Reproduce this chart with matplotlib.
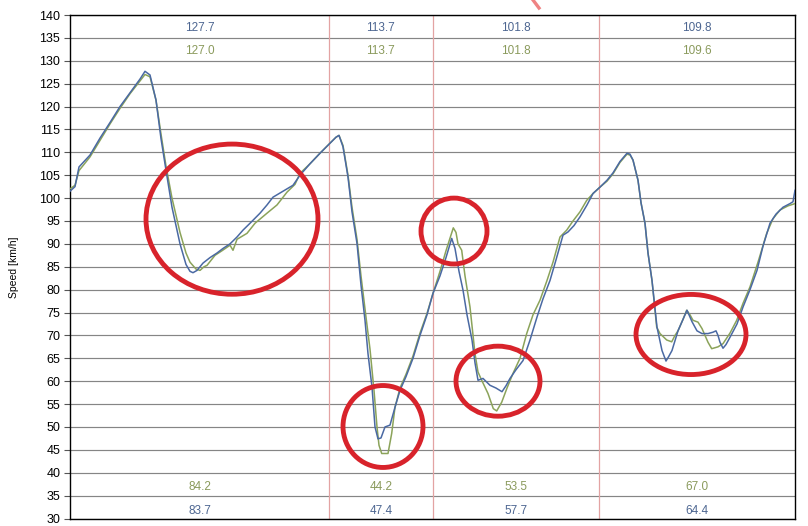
import matplotlib
matplotlib.use("Agg")
import matplotlib.pyplot as plt
from matplotlib.patches import Ellipse
from matplotlib.lines import Line2D

plt.rcParams['font.family'] = ['Liberation Sans', 'DejaVu Sans']

# distance along the lap (arbitrary units)
blue_x = [0, 5, 9, 20, 30, 40, 50, 60, 70, 75, 80, 86, 91, 96, 102, 110, 116, 120, 123, 127,
          133, 140, 147, 153, 160, 167, 173, 180, 190, 197, 203, 213, 223, 230, 240, 250, 260,
          266, 269, 273, 278, 282, 287, 291, 295, 298, 302, 305, 308, 311, 315, 320, 325, 330,
          336, 343, 350, 357, 363, 370, 376, 381.7, 385, 389, 393, 397, 402, 405, 408, 413, 420,
          426, 432, 436, 440, 446, 453, 460, 467, 473, 480, 486, 493, 498, 504, 510, 517, 523,
          530, 537, 543, 550, 557, 560, 563, 568, 571, 575, 578, 582, 587, 592, 596, 599, 602,
          608, 613, 617, 622, 627, 632, 638, 643, 646, 648, 650, 653, 656, 660, 667, 673, 680,
          687, 693, 700, 706, 713, 720, 723, 725]
blue_speed = [101.5, 102.5, 106.8, 109.4, 113.1, 116.5, 120, 123, 126, 127.7, 126.9, 121.4, 113,
              106.1, 98, 90, 85.5, 84, 83.7, 84.2, 85.8, 87, 88, 89, 90, 91.5, 93, 94.5, 96.7,
              98.5, 100.2, 101.5, 102.8, 105, 107.5, 109.8, 112, 113.3, 113.7, 111.2, 104.6, 97,
              90.1, 81, 73.3, 66, 58.7, 50, 47.4, 47.6, 50, 50.4, 54.3, 58, 61, 65, 70, 74.5,
              79.2, 83, 87, 91.2, 89, 84, 79.9, 74.5, 69, 64, 60.2, 60.6, 59.1, 58.5, 57.7, 59,
              60.6, 62.5, 64.5, 69, 74, 78, 82, 86.5, 91.9, 92.6, 94, 95.9, 98.5, 101, 102.4,
              103.9, 105.5, 108, 109.8, 109.6, 108.3, 103.9, 99, 94.5, 88, 82, 71.8, 66.7, 64.4,
              65.5, 66.7, 71, 73.5, 75.5, 73, 71, 70.4, 70.4, 70.7, 71, 70, 68.5, 67.2, 68,
              69.6, 72.5, 76.2, 80, 84.2, 89.5, 94.5, 96.5, 98, 98.8, 99.2, 101.7]

green_x = [0, 5, 9, 20, 30, 40, 50, 60, 70, 75, 80, 86, 91, 96, 102, 110, 116, 120, 126, 130,
           134, 137, 145, 152, 160, 163, 167, 177, 185, 197, 207, 217, 225, 230, 240, 250, 260,
           266, 269, 273, 278, 282, 287, 291, 296, 300, 304, 307, 309, 311.7, 318, 321.7, 325,
           330, 336, 343, 350, 357, 363, 370, 376, 383.3, 386, 388, 391.7, 395, 400, 405, 408,
           411.7, 418, 423.3, 426.7, 431.7, 437, 443, 450, 456.7, 463, 470, 477, 483, 490, 496.7,
           503, 510, 516.7, 523, 530, 537, 543, 550, 557, 560, 563, 568, 571, 575, 578, 582,
           586.7, 590, 596.7, 601.7, 605, 608, 613, 616.7, 620, 623, 628, 632, 635, 638, 641.7,
           648, 653, 660, 666.7, 673, 680, 688, 696.7, 703, 710, 718, 725]
green_speed = [102, 102.8, 106, 109, 112.6, 116.2, 119.6, 122.8, 125.6, 127.0, 126.5, 121.4, 114,
               107, 100, 92.5, 88, 86, 84.5, 84.2, 85, 85.3, 87.5, 88.5, 89.7, 88.6, 91, 92.3,
               94.5, 96.7, 98.5, 101.3, 103, 105.4, 107.5, 109.8, 112, 113.3, 113.7, 111.5, 105,
               98, 91, 83, 74, 67, 58, 50, 46, 44.2, 44.2, 48.6, 54.3, 58.5, 61.5, 65.5, 70.5,
               74.8, 79.2, 84, 88.5, 93.5, 92.5, 90, 88.6, 83, 76.2, 66, 62, 60.2, 57.3, 54.0,
               53.5, 55.4, 58.5, 61.7, 65, 70.4, 74.5, 77.7, 82, 86, 91.5, 93, 95, 97, 99.5, 101,
               102.4, 103.7, 105.3, 107.8, 109.6, 109.4, 108.3, 103.9, 99, 94.5, 88, 82, 71.8,
               70.4, 69, 68.6, 70, 71, 73.5, 75.5, 74.5, 73.3, 72.9, 71.5, 70, 68.5, 67.1, 67.5,
               68.2, 70.5, 73.3, 77, 80.6, 86, 92.3, 95.5, 97.4, 98.3, 98.8]

# sector boundaries and sector stats
sector_bounds = [0, 259, 362.7, 529.3, 725]
blue_max = ["127.7", "113.7", "101.8", "109.8"]
green_max = ["127.0", "113.7", "101.8", "109.6"]
green_min = ["84.2", "44.2", "53.5", "67.0"]
blue_min = ["83.7", "47.4", "57.7", "64.4"]

BLUE = "#4a69a3"
GREEN = "#8ba35a"
BLUE_T = "#4d6691"
GREEN_T = "#8a9a5c"

fig = plt.figure(figsize=(8.08, 5.26), dpi=100)
ax = fig.add_axes([70 / 808, 1 - 518.5 / 526, 725 / 808, 503.5 / 526])

ax.set_xlim(sector_bounds[0], sector_bounds[-1])
ax.set_ylim(30, 140)
ax.set_yticks(range(30, 141, 5))
ax.set_xticks([])
ax.grid(axis='y', color='#858585', linewidth=0.85)
ax.set_axisbelow(True)
for s in ax.spines.values():
    s.set_color('black')
    s.set_linewidth(1.0)
ax.tick_params(axis='y', length=4, width=0.8, color='#555555', pad=3, labelsize=9)

for b in sector_bounds[1:-1]:
    ax.axvline(b, color='#e3a3a3', linewidth=0.9, zorder=1)

ax.plot(green_x, green_speed, color=GREEN, linewidth=1.1, zorder=3)
ax.plot(blue_x, blue_speed, color=BLUE, linewidth=1.1, zorder=4)

for i in range(4):
    cx = (sector_bounds[i] + sector_bounds[i + 1]) / 2
    ax.text(cx, 137.1, blue_max[i], color=BLUE_T, fontsize=8.5, ha='center', va='center')
    ax.text(cx, 132.1, green_max[i], color=GREEN_T, fontsize=8.5, ha='center', va='center')
    ax.text(cx, 36.8, green_min[i], color=GREEN_T, fontsize=8.5, ha='center', va='center')
    ax.text(cx, 31.6, blue_min[i], color=BLUE_T, fontsize=8.5, ha='center', va='center')

ax.set_ylabel("Speed [km/h]", fontsize=7.5)
ax.yaxis.set_label_coords(-0.070, 0.5)

# highlight circles
circles = [(162, 95.4, 172, 32.8), (313, 50.1, 80, 17.9), (384, 92.8, 66, 14.4),
           (428, 60.0, 84, 15.3), (621, 70.2, 110, 17.5)]
for cx, cy, w, h in circles:
    ax.add_patch(Ellipse((cx, cy), w, h, fill=False, edgecolor='#d8232b', linewidth=3.5, zorder=6))

fig.add_artist(Line2D([533 / 808, 539 / 808], [1.0, 1 - 8 / 526], color='#ef8383',
                      linewidth=2.4, transform=fig.transFigure))

fig.savefig("out.png", dpi=100)
